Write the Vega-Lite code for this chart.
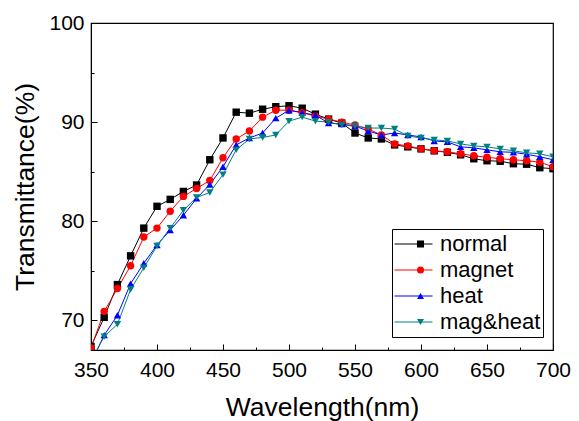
{
"$schema": "https://vega.github.io/schema/vega-lite/v6.json",
"width": 462,
"height": 327,
"autosize": {"type": "none"},
"padding": {"left": 91, "top": 23, "right": 26, "bottom": 71},
"background": "white",
"config": {"font": "Liberation Sans", "view": {"stroke": "black", "strokeWidth": 1.2}},
"data": {"values": [
{"w":350,"s":"normal","t":67.35},{"w":360,"s":"normal","t":70.3},{"w":370,"s":"normal","t":73.6},{"w":380,"s":"normal","t":76.5},{"w":390,"s":"normal","t":79.3},{"w":400,"s":"normal","t":81.5},{"w":410,"s":"normal","t":82.2},{"w":420,"s":"normal","t":83.0},{"w":430,"s":"normal","t":83.65},{"w":440,"s":"normal","t":86.2},{"w":450,"s":"normal","t":88.4},{"w":460,"s":"normal","t":91.0},{"w":470,"s":"normal","t":90.9},{"w":480,"s":"normal","t":91.3},{"w":490,"s":"normal","t":91.55},{"w":500,"s":"normal","t":91.65},{"w":510,"s":"normal","t":91.4},{"w":520,"s":"normal","t":90.8},{"w":530,"s":"normal","t":90.3},{"w":540,"s":"normal","t":89.9},{"w":550,"s":"normal","t":88.9},{"w":560,"s":"normal","t":88.4},{"w":570,"s":"normal","t":88.3},{"w":580,"s":"normal","t":87.7},{"w":590,"s":"normal","t":87.5},{"w":600,"s":"normal","t":87.3},{"w":610,"s":"normal","t":87.1},{"w":620,"s":"normal","t":86.95},{"w":630,"s":"normal","t":86.7},{"w":640,"s":"normal","t":86.3},{"w":650,"s":"normal","t":86.1},{"w":660,"s":"normal","t":86.05},{"w":670,"s":"normal","t":85.8},{"w":680,"s":"normal","t":85.75},{"w":690,"s":"normal","t":85.4},{"w":700,"s":"normal","t":85.3},
{"w":350,"s":"magnet","t":67.2},{"w":360,"s":"magnet","t":70.9},{"w":370,"s":"magnet","t":73.2},{"w":380,"s":"magnet","t":75.5},{"w":390,"s":"magnet","t":78.4},{"w":400,"s":"magnet","t":79.3},{"w":410,"s":"magnet","t":81.0},{"w":420,"s":"magnet","t":82.5},{"w":430,"s":"magnet","t":83.3},{"w":440,"s":"magnet","t":84.1},{"w":450,"s":"magnet","t":86.4},{"w":460,"s":"magnet","t":88.3},{"w":470,"s":"magnet","t":89.1},{"w":480,"s":"magnet","t":90.5},{"w":490,"s":"magnet","t":91.2},{"w":500,"s":"magnet","t":91.2},{"w":510,"s":"magnet","t":90.95},{"w":520,"s":"magnet","t":90.6},{"w":530,"s":"magnet","t":90.3},{"w":540,"s":"magnet","t":90.0},{"w":550,"s":"magnet","t":89.7},{"w":560,"s":"magnet","t":89.3},{"w":570,"s":"magnet","t":88.7},{"w":580,"s":"magnet","t":87.8},{"w":590,"s":"magnet","t":87.6},{"w":600,"s":"magnet","t":87.3},{"w":610,"s":"magnet","t":87.1},{"w":620,"s":"magnet","t":87.0},{"w":630,"s":"magnet","t":86.8},{"w":640,"s":"magnet","t":86.6},{"w":650,"s":"magnet","t":86.45},{"w":660,"s":"magnet","t":86.3},{"w":670,"s":"magnet","t":86.2},{"w":680,"s":"magnet","t":86.1},{"w":690,"s":"magnet","t":85.95},{"w":700,"s":"magnet","t":85.5},
{"w":350,"s":"heat","t":65.7},{"w":360,"s":"heat","t":68.5},{"w":370,"s":"heat","t":70.5},{"w":380,"s":"heat","t":73.7},{"w":390,"s":"heat","t":75.75},{"w":400,"s":"heat","t":77.6},{"w":410,"s":"heat","t":79.1},{"w":420,"s":"heat","t":80.6},{"w":430,"s":"heat","t":82.3},{"w":440,"s":"heat","t":83.7},{"w":450,"s":"heat","t":85.5},{"w":460,"s":"heat","t":87.7},{"w":470,"s":"heat","t":88.4},{"w":480,"s":"heat","t":88.9},{"w":490,"s":"heat","t":90.4},{"w":500,"s":"heat","t":91.2},{"w":510,"s":"heat","t":90.95},{"w":520,"s":"heat","t":90.7},{"w":530,"s":"heat","t":89.9},{"w":540,"s":"heat","t":89.8},{"w":550,"s":"heat","t":89.6},{"w":560,"s":"heat","t":89.1},{"w":570,"s":"heat","t":88.7},{"w":580,"s":"heat","t":88.9},{"w":590,"s":"heat","t":88.7},{"w":600,"s":"heat","t":88.5},{"w":610,"s":"heat","t":88.1},{"w":620,"s":"heat","t":88.0},{"w":630,"s":"heat","t":87.5},{"w":640,"s":"heat","t":87.4},{"w":650,"s":"heat","t":87.2},{"w":660,"s":"heat","t":87.0},{"w":670,"s":"heat","t":86.95},{"w":680,"s":"heat","t":86.75},{"w":690,"s":"heat","t":86.5},{"w":700,"s":"heat","t":86.2},
{"w":350,"s":"mag&heat","t":65.9},{"w":360,"s":"mag&heat","t":68.35},{"w":370,"s":"mag&heat","t":69.6},{"w":380,"s":"mag&heat","t":73.1},{"w":390,"s":"mag&heat","t":75.3},{"w":400,"s":"mag&heat","t":77.5},{"w":410,"s":"mag&heat","t":79.3},{"w":420,"s":"mag&heat","t":81.1},{"w":430,"s":"mag&heat","t":82.4},{"w":440,"s":"mag&heat","t":82.9},{"w":450,"s":"mag&heat","t":84.7},{"w":460,"s":"mag&heat","t":87.2},{"w":470,"s":"mag&heat","t":88.3},{"w":480,"s":"mag&heat","t":88.45},{"w":490,"s":"mag&heat","t":88.7},{"w":500,"s":"mag&heat","t":90.1},{"w":510,"s":"mag&heat","t":90.5},{"w":520,"s":"mag&heat","t":90.1},{"w":530,"s":"mag&heat","t":90.0},{"w":540,"s":"mag&heat","t":89.7},{"w":550,"s":"mag&heat","t":89.6},{"w":560,"s":"mag&heat","t":89.4},{"w":570,"s":"mag&heat","t":89.4},{"w":580,"s":"mag&heat","t":89.3},{"w":590,"s":"mag&heat","t":88.6},{"w":600,"s":"mag&heat","t":88.4},{"w":610,"s":"mag&heat","t":88.2},{"w":620,"s":"mag&heat","t":88.1},{"w":630,"s":"mag&heat","t":87.8},{"w":640,"s":"mag&heat","t":87.6},{"w":650,"s":"mag&heat","t":87.5},{"w":660,"s":"mag&heat","t":87.3},{"w":670,"s":"mag&heat","t":87.1},{"w":680,"s":"mag&heat","t":86.9},{"w":690,"s":"mag&heat","t":86.8},{"w":700,"s":"mag&heat","t":86.5}
]},
"encoding": {
  "x": {"field": "w", "type": "quantitative", "scale": {"domain": [350, 700], "nice": false, "zero": false},
    "axis": {"title": "Wavelength(nm)", "values": [350,375,400,425,450,475,500,525,550,575,600,625,650,675,700],
      "labelExpr": "datum.value % 50 === 0 ? datum.label : ''", "labelFlush": false, "labelOverlap": false,
      "grid": false, "domainColor": "black", "tickColor": "black", "tickWidth": 1,
      "tickSize": {"condition": {"test": "datum.value % 50 === 0", "value": -6}, "value": -3},
      "labelPadding": 15, "labelFontSize": 21, "labelColor": "black",
      "titleFontSize": 26.5, "titleFontWeight": "normal", "titleColor": "black", "titlePadding": 11}},
  "y": {"field": "t", "type": "quantitative", "scale": {"domain": [67, 100], "nice": false, "zero": false},
    "axis": {"title": "Transmittance(%)", "values": [70,75,80,85,90,95,100],
      "labelExpr": "datum.value % 10 === 0 ? datum.label : ''", "labelFlush": false, "labelOverlap": false,
      "grid": false, "domainColor": "black", "tickColor": "black", "tickWidth": 1,
      "tickSize": {"condition": {"test": "datum.value % 10 === 0", "value": -6}, "value": -3},
      "labelPadding": 13, "labelFontSize": 21, "labelColor": "black",
      "titleFontSize": 26.5, "titleFontWeight": "normal", "titleColor": "black", "titlePadding": 9}}
},
"layer": [
  {"mark": {"type": "line", "strokeWidth": 1, "clip": true},
   "encoding": {"color": {"field": "s", "type": "nominal",
     "scale": {"domain": ["normal","magnet","heat","mag&heat"], "range": ["#000000","#ff0000","#0000ff","#008080"]},
     "legend": {"title": null, "orient": "none", "legendX": 301, "legendY": 206, "padding": 2, "clipHeight": 26,
       "strokeColor": "black", "fillColor": "white", "labelFontSize": 22, "labelColor": "black", "labelOffset": 7, "rowPadding": 0,
       "symbolType": "stroke", "symbolSize": 1444, "symbolStrokeWidth": 1}}}},
  {"mark": {"type": "point", "filled": true, "size": 55, "opacity": 1, "clip": true},
   "encoding": {
     "color": {"field": "s", "type": "nominal",
       "scale": {"domain": ["normal","magnet","heat","mag&heat"], "range": ["#000000","#ff0000","#0000ff","#008080"]},
       "legend": {"title": null, "orient": "none", "legendX": 301, "legendY": 206, "padding": 2, "clipHeight": 26,
         "labelExpr": "''", "labelFontSize": 22, "labelOffset": 7, "rowPadding": 0, "symbolSize": 50, "symbolOffset": 15.5}},
     "shape": {"field": "s", "type": "nominal",
       "scale": {"domain": ["normal","magnet","heat","mag&heat"], "range": ["square","circle","triangle-up","triangle-down"]},
       "legend": {"title": null, "orient": "none", "legendX": 301, "legendY": 206, "padding": 2, "clipHeight": 26,
         "labelExpr": "''", "labelFontSize": 22, "labelOffset": 7, "rowPadding": 0, "symbolSize": 50, "symbolOffset": 15.5}}}}
],
"resolve": {"scale": {"color": "independent", "shape": "independent"}}
}
